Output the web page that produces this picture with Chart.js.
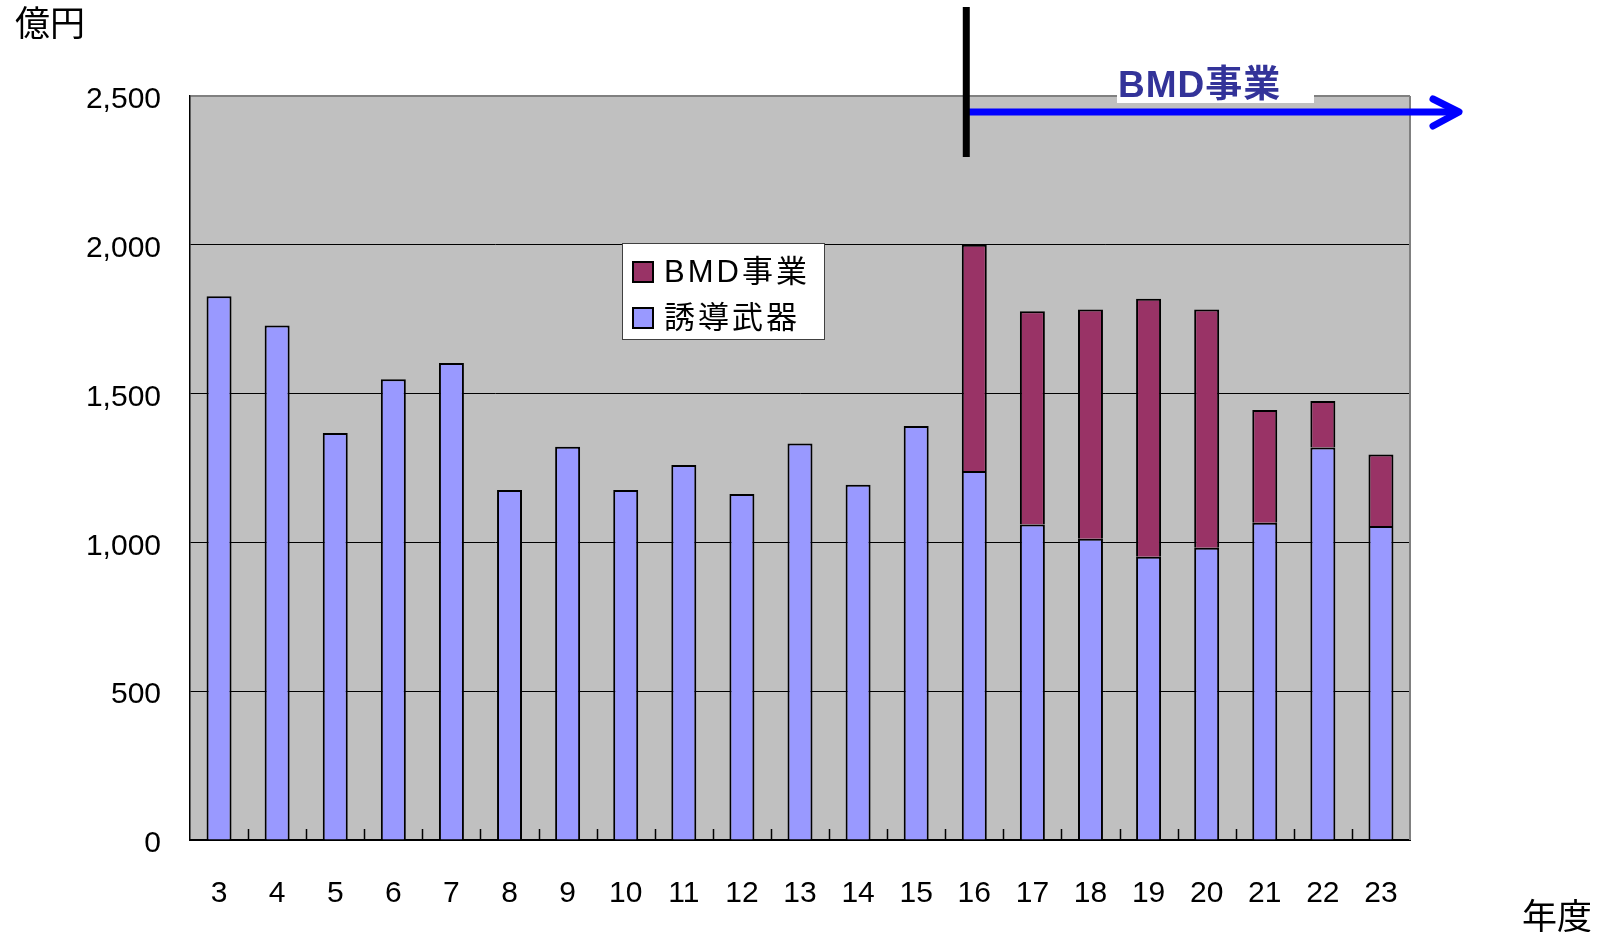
<!DOCTYPE html>
<html>
<head>
<meta charset="utf-8">
<script src="https://cdn.jsdelivr.net/npm/chart.js@4"></script>
<style>
  body { margin: 0; background: #fff; }
  #wrap { position: relative; width: 1603px; height: 932px; }
</style>
</head>
<body>
<div id="wrap"><canvas id="chart" width="1603" height="932"></canvas></div>
<script>
// 年度 (Heisei) and amounts in 億円
const years = ['3','4','5','6','7','8','9','10','11','12','13','14','15','16','17','18','19','20','21','22','23'];
const guided = [1827, 1729, 1368, 1548, 1603, 1176, 1321, 1176, 1260, 1163, 1332, 1194, 1391, 1240, 1060, 1012, 952, 982, 1066, 1319, 1055];
const bmd = [null, null, null, null, null, null, null, null, null, null, null, null, null, 760, 717, 771, 867, 801, 379, 156, 240];
const yTicks = [0, 500, 1000, 1500, 2000, 2500];

const labelFont = "'Liberation Sans', Arial, sans-serif";
const mixFont = "'Liberation Sans', 'Noto Sans CJK JP', sans-serif";
const cjkFont = "'Noto Sans CJK JP', 'Liberation Sans', sans-serif";

// grey plot background, right border, inner tick marks
const plotDecor = {
    id: 'plotDecor',
    beforeDraw(chart) {
        let a = chart.chartArea, ctx = chart.ctx;
        ctx.save();
        ctx.fillStyle = '#C0C0C0';
        ctx.fillRect(a.left, a.top, a.right - a.left, a.bottom - a.top);
        ctx.restore();
    },
    afterDatasetsDraw(chart) {
        let a = chart.chartArea, ctx = chart.ctx, x = chart.scales.x;
        ctx.save();
        ctx.strokeStyle = '#808080';
        ctx.lineWidth = 2;
        ctx.beginPath();
        ctx.moveTo(a.right, a.top);
        ctx.lineTo(a.right, a.bottom);
        ctx.stroke();
        ctx.strokeStyle = '#000';
        ctx.lineWidth = 1.5;
        let half = (x.getPixelForValue(1) - x.getPixelForValue(0)) / 2;
        for (let i = 0; i < years.length - 1; i++) {
            let px = Math.round(x.getPixelForValue(i) + half) + 0.5;
            ctx.beginPath();
            ctx.moveTo(px, a.bottom);
            ctx.lineTo(px, a.bottom - 11);
            ctx.stroke();
        }
        ctx.restore();
    }
};

// legend box inside the plot
const boxLegend = {
    id: 'boxLegend',
    afterDraw(chart) {
        let ctx = chart.ctx;
        let left = 622, top = 243, w = 202, h = 96;
        ctx.save();
        ctx.fillStyle = '#fff';
        ctx.fillRect(left, top, w, h);
        ctx.strokeStyle = '#404040';
        ctx.lineWidth = 1;
        ctx.strokeRect(left + 0.5, top + 0.5, w, h);
        let items = [chart.data.datasets[1], chart.data.datasets[0]];
        items.forEach((ds, i) => {
            let cy = 272 + i * 46;
            ctx.fillStyle = ds.backgroundColor;
            ctx.fillRect(633, cy - 10, 20, 20);
            ctx.strokeStyle = '#000';
            ctx.lineWidth = 2;
            ctx.strokeRect(633, cy - 10, 20, 20);
            ctx.fillStyle = '#000';
            ctx.font = '31px ' + mixFont;
            ctx.letterSpacing = '3px';
            ctx.textBaseline = 'middle';
            ctx.fillText(ds.label, 664, cy + 1);
        });
        ctx.restore();
    }
};

// 億円 / 年度 labels, BMD marker line and arrow
const notes = {
    id: 'notes',
    afterDraw(chart) {
        let ctx = chart.ctx, x = chart.scales.x;
        ctx.save();
        ctx.fillStyle = '#000';
        ctx.font = '35px ' + cjkFont;
        ctx.textBaseline = 'alphabetic';
        ctx.fillText('億円', 15, 36);
        ctx.fillText('年度', 1522, 929);

        let lx = x.getPixelForValue(13) - 8;
        ctx.fillStyle = '#fff';
        ctx.fillRect(1117, 60, 197, 43);
        ctx.fillStyle = '#333399';
        ctx.font = 'bold 37px ' + mixFont;
        ctx.letterSpacing = '1px';
        ctx.fillText('BMD事業', 1118, 97);
        ctx.letterSpacing = '0px';

        ctx.strokeStyle = '#0000FF';
        ctx.lineWidth = 7;
        ctx.lineCap = 'butt';
        ctx.beginPath();
        ctx.moveTo(lx, 112);
        ctx.lineTo(1458, 112);
        ctx.stroke();
        ctx.lineCap = 'round';
        ctx.lineJoin = 'round';
        ctx.beginPath();
        ctx.moveTo(1433, 99);
        ctx.lineTo(1459, 112);
        ctx.lineTo(1433, 126);
        ctx.stroke();

        ctx.strokeStyle = '#000';
        ctx.lineWidth = 7;
        ctx.lineCap = 'butt';
        ctx.beginPath();
        ctx.moveTo(lx, 7);
        ctx.lineTo(lx, 157);
        ctx.stroke();
        ctx.restore();
    }
};

let ctx = document.getElementById('chart').getContext('2d');
window.bar = new Chart(ctx, {
    type: 'bar',
    data: {
        labels: years,
        datasets: [{
            label: '誘導武器',
            data: guided,
            backgroundColor: '#9999FF',
            borderColor: '#000',
            borderWidth: 2,
            stack: 's'
        }, {
            label: 'BMD事業',
            data: bmd,
            backgroundColor: '#993366',
            borderColor: '#000',
            borderWidth: 2,
            stack: 's'
        }]
    },
    options: {
        responsive: false,
        devicePixelRatio: 1,
        animation: false,
        layout: { padding: { top: 96, right: 193, left: 0, bottom: 0 } },
        plugins: {
            legend: { display: false },
            tooltip: { enabled: false }
        },
        datasets: { bar: { categoryPercentage: 1, barPercentage: 0.43 } },
        scales: {
            x: {
                stacked: true,
                grid: { display: false },
                border: { display: true, color: '#000', width: 2 },
                ticks: { color: '#000', font: { size: 30, family: labelFont }, padding: 28, maxRotation: 0 },
                afterFit(scale) { scale.height = 92; }
            },
            y: {
                stacked: true,
                min: 0,
                max: 2500,
                afterBuildTicks(scale) { scale.ticks = yTicks.map(v => ({ value: v })); },
                grid: {
                    color: c => c.tick && c.tick.value === 2500 ? '#808080' : '#000',
                    lineWidth: c => c.tick && c.tick.value === 2500 ? 2 : 1,
                    drawTicks: false
                },
                border: { display: true, color: '#000', width: 1.5 },
                ticks: {
                    color: '#000',
                    font: { size: 30, family: labelFont },
                    padding: 29,
                    labelOffset: 4,
                    callback: v => v.toLocaleString('en-US')
                },
                afterFit(scale) { scale.width = 190; }
            }
        }
    },
    plugins: [plotDecor, boxLegend, notes]
});
</script>
</body>
</html>
